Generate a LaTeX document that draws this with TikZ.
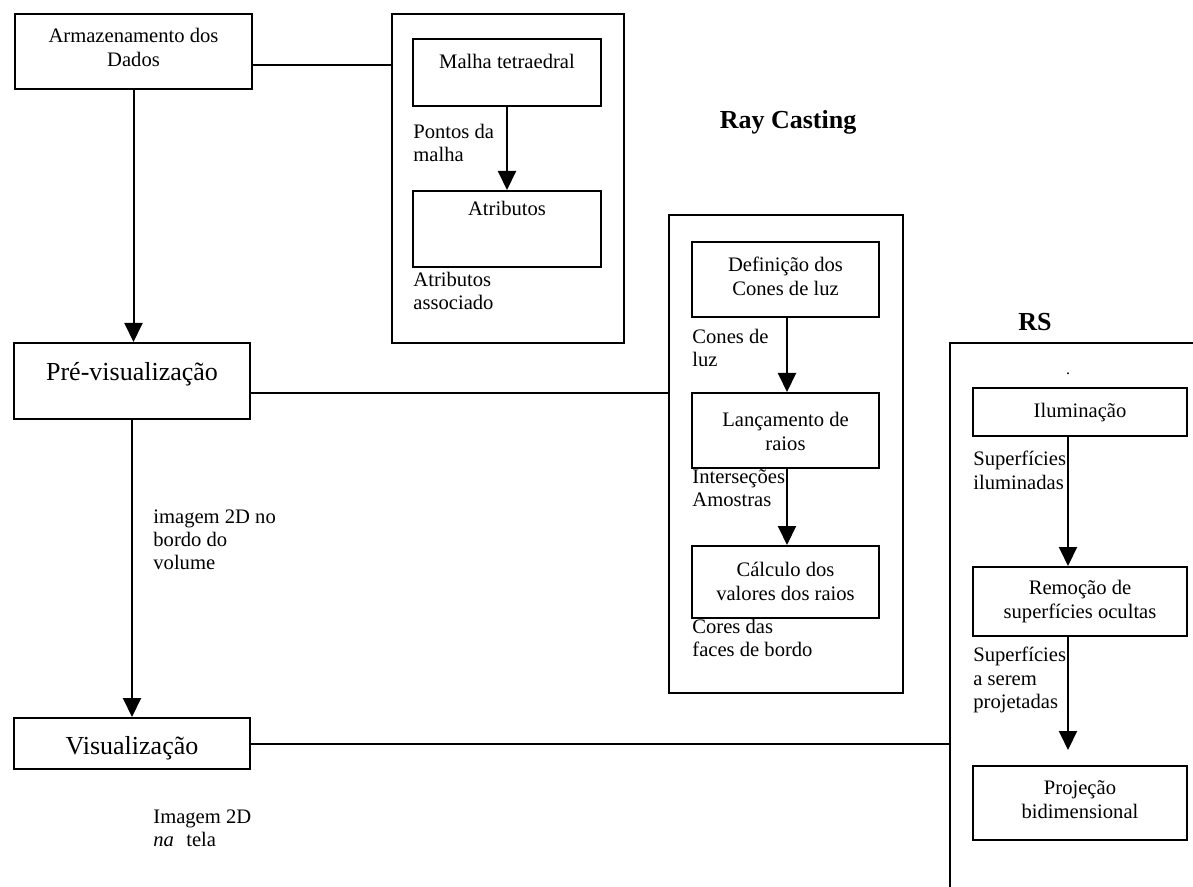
\documentclass[tikz,border=0pt]{standalone}
\usepackage{fontspec}
\setmainfont{Liberation Serif}
\usetikzlibrary{arrows.meta}
\begin{document}
\begin{tikzpicture}[x=0.5pt,y=-0.5pt,
  box/.style 2 args={draw=black, line width=1pt, rectangle, inner sep=0pt,
    minimum width=#1, minimum height=#2},
  boxtext/.style={font=\fontsize{10.3}{12}\selectfont, align=center, inner sep=0pt, anchor=north},
  bigtext/.style={font=\fontsize{13}{15}\selectfont, align=center, inner sep=0pt, anchor=north},
  lbl/.style={font=\fontsize{10.3}{11.6}\selectfont, align=left, inner sep=0pt, anchor=north west},
  title/.style={font=\fontsize{13}{15}\selectfont\bfseries, inner sep=0pt},
  arr/.style={line width=1pt, -{Triangle[length=9.5pt,width=9pt]}},
  link/.style={line width=1pt}]
\useasboundingbox (0,0) rectangle (1193,887);
\clip (0,0) rectangle (1193,887);

% left column: processing stages
\node[box={118.5pt}{37.5pt}] (arm) at (133.5,51.5) {};
\node[boxtext] (arm-t) at ([yshift=-7.5pt]arm.north) {Armazenamento dos\\Dados};
\node[box={118pt}{38pt}] (pre) at (132,381) {};
\node[bigtext] (pre-t) at ([yshift=-10pt]pre.north) {Pré-visualização};
\node[box={118pt}{25.5pt}] (vis) at (132,743.5) {};
\node[bigtext] (vis-t) at ([yshift=-9.5pt]vis.north) {Visualização};

% data storage group
\node[box={116pt}{164.5pt}] (grp) at (508,178.5) {};
\node[box={94pt}{33.5pt}] (malha) at (507,72.5) {};
\node[boxtext] (malha-t) at ([yshift=-8pt]malha.north) {Malha tetraedral};
\node[box={94pt}{38pt}] (atrib) at (507,229) {};
\node[boxtext] (atrib-t) at ([yshift=-5.5pt]atrib.north) {Atributos};
\node[lbl] (pontos) at (413,124) {Pontos da\\malha};
\node[lbl] (assoc) at (413,272) {Atributos\\associado};

% ray casting group
\node[title] (rc-title) at (788,122) {Ray Casting};
\node[box={117pt}{239pt}] (rc) at (786,454) {};
\node[box={93.5pt}{37.5pt}] (def) at (785.5,279.5) {};
\node[boxtext] (def-t) at ([yshift=-8pt]def.north) {Definição dos\\Cones de luz};
\node[box={93.5pt}{37.5pt}] (lanc) at (785.5,430.5) {};
\node[boxtext] (lanc-t) at ([yshift=-10pt]lanc.north) {Lançamento de\\raios};
\node[box={93.5pt}{36pt}] (calc) at (785.5,582) {};
\node[boxtext] (calc-t) at ([yshift=-8.5pt]calc.north) {Cálculo dos\\valores dos raios};
\node[lbl] (cones) at (692,329) {Cones de\\luz};
\node[lbl] (inters) at (692,469) {Interseções\\Amostras};
\node[lbl] (cores) at (692,619) {Cores das\\faces de bordo};

% RS group
\node[title] (rs-title) at (1035,322) {RS};
\node[box={130pt}{281pt}] (rs) at (1080,624) {};
\node[font=\fontsize{8}{9}\selectfont, inner sep=0pt] (dot) at (1068,374) {.};
\node[box={107pt}{24pt}] (ilum) at (1080,412) {};
\node[boxtext] (ilum-t) at ([yshift=-8pt]ilum.north) {Iluminação};
\node[box={107pt}{34.5pt}] (remo) at (1080,601.5) {};
\node[boxtext] (remo-t) at ([yshift=-7pt]remo.north) {Remoção de\\superfícies ocultas};
\node[box={107pt}{37pt}] (proj) at (1080,803) {};
\node[boxtext] (proj-t) at ([yshift=-7.5pt]proj.north) {Projeção\\bidimensional};
\node[lbl] (sup1) at (973,451) {Superfícies\\iluminadas};
\node[lbl] (sup2) at (973,647) {Superfícies\\a serem\\projetadas};

% free labels of the left column
\node[lbl] (img1) at (153,509) {imagem 2D no\\bordo do\\volume};
\node[lbl] (img2) at (153,809) {Imagem 2D\\\textit{na}\hspace{0.6em}tela};

% arrows
\draw[arr] (arm.south) -- (arm.south |- pre.north);
\draw[arr] (pre.south) -- (pre.south |- vis.north);
\draw[arr] (malha.south) -- (atrib.north);
\draw[arr] ([xshift=0.75pt]def.south) -- ([xshift=0.75pt]lanc.north);
\draw[arr] ([xshift=0.75pt]lanc.south) -- ([xshift=0.75pt]calc.north);
\draw[arr] ([xshift=-6pt]ilum.south) -- ([xshift=-6pt]remo.north);
\draw[arr] ([xshift=-6pt]remo.south) -- ([xshift=-6pt,yshift=7.5pt]proj.north);

% plain connectors to the groups
\draw[link] ([yshift=-6.75pt]arm.east) -- ([yshift=-6.75pt]arm.east -| grp.west);
\draw[link] ([yshift=-6pt]pre.east) -- ([yshift=-6pt]pre.east -| rc.west);
\draw[link] (vis.east) -- (vis.east -| rs.west);
\end{tikzpicture}
\end{document}
